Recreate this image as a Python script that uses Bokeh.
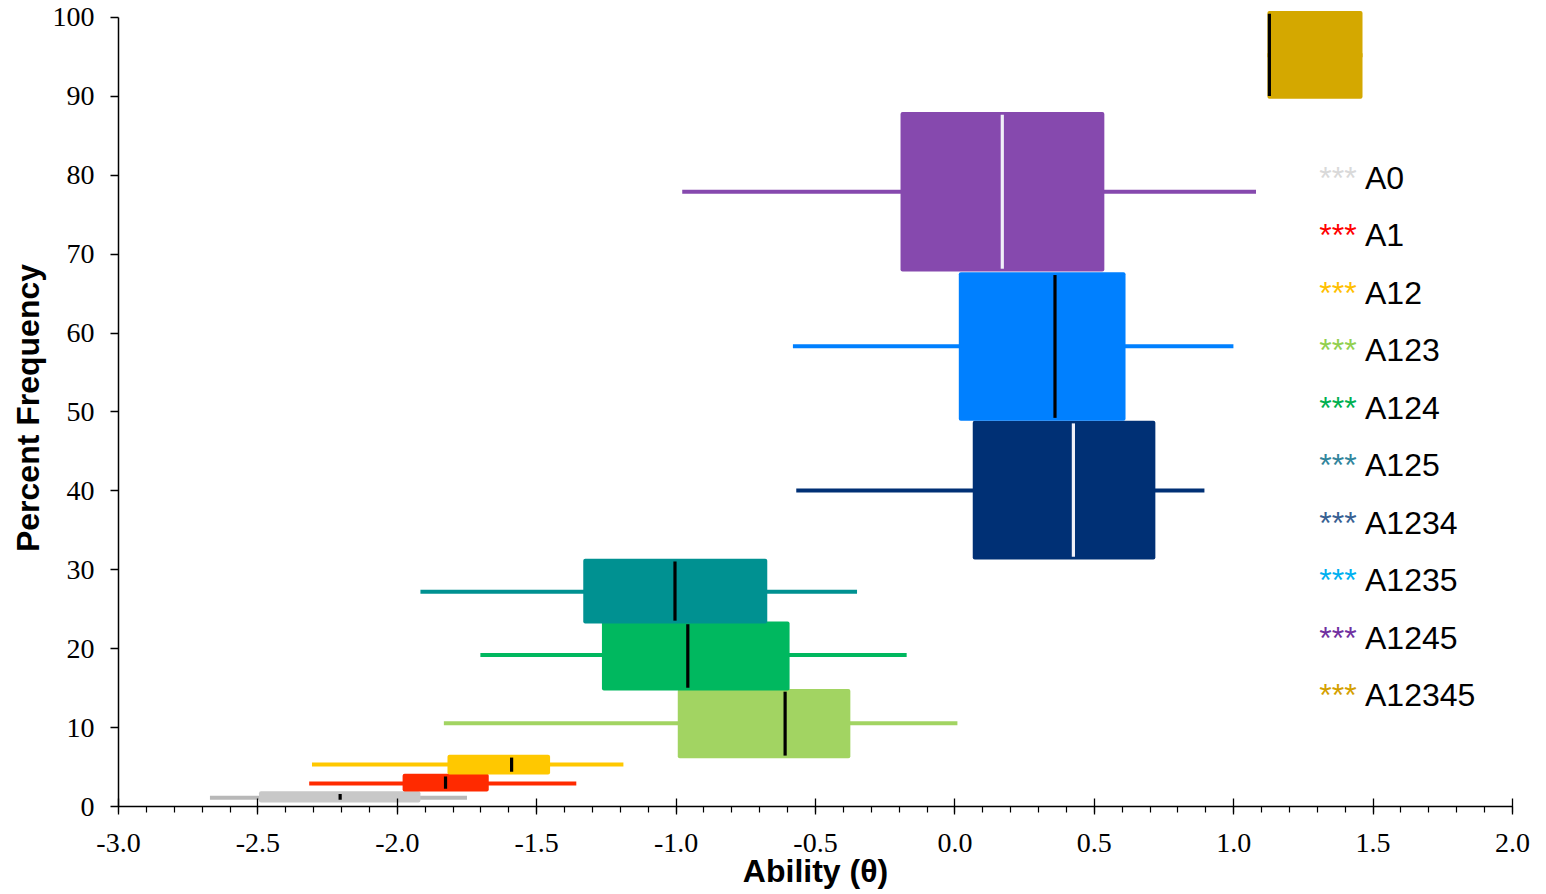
from bokeh.plotting import figure
from bokeh.models import ColumnDataSource, FixedTicker, PrintfTickFormatter, Range1d
from bokeh.core.properties import value
from bokeh.embed import file_html
from bokeh.resources import INLINE

# ---- data ----
groups = ["A0", "A1", "A12", "A123", "A124", "A125", "A1234", "A1235", "A1245", "A12345"]
bottom = [0.5, 1.9, 4.05, 6.1, 14.7, 23.2, 31.3, 48.9, 67.8, 89.7]
top = [1.94, 4.14, 6.55, 14.9, 23.45, 31.4, 48.9, 67.7, 88.0, 100.8]
whisker_y = [1.1, 2.92, 5.32, 10.56, 19.2, 27.2, 40.05, 58.34, 77.9, 95.2]
low = [-2.672, -2.316, -2.306, -1.833, -1.702, -1.917, -0.569, -0.581, -0.978, 1.121]
q1 = [-2.496, -1.981, -1.820, -0.994, -1.266, -1.333, 0.064, 0.014, -0.195, 1.121]
median = [-2.205, -1.827, -1.590, -0.609, -0.958, -1.004, 0.425, 0.359, 0.170, 1.128]
q3 = [-1.917, -1.672, -1.452, -0.375, -0.593, -0.673, 0.719, 0.612, 0.536, 1.462]
high = [-1.750, -1.358, -1.189, 0.009, -0.173, -0.351, 0.895, 0.999, 1.080, 1.462]

x_ticks = [-3.0, -2.5, -2.0, -1.5, -1.0, -0.5, 0.0, 0.5, 1.0, 1.5, 2.0]
y_ticks = [0, 10, 20, 30, 40, 50, 60, 70, 80, 90, 100]

# ---- styles ----
box_colors = ["#C8C8C8", "#FF2A00", "#FFC800", "#A2D462", "#00B85F", "#009191",
              "#003075", "#0080FF", "#8649AE", "#D4A800"]
whisker_colors = ["#B8B8B8", "#FF2A00", "#FFC800", "#A2D462", "#00B85F", "#009191",
                  "#003075", "#0080FF", "#8649AE", "#D4A800"]
median_colors = ["#000000", "#000000", "#000000", "#000000", "#000000", "#000000",
                 "#F0F0F8", "#000000", "#F0F0F8", "#000000"]
legend_colors = ["#D9D9D9", "#FF0000", "#FFC000", "#92D050", "#00B050", "#31859C",
                 "#376092", "#00B0F0", "#7030A0", "#D4A000"]

inset = 0.35
src = ColumnDataSource(dict(
    group=groups, bottom=bottom, top=top, wy=whisker_y, low=low, q1=q1,
    median=median, q3=q3, high=high,
    mb=[b + inset for b in bottom], mt=[t - inset for t in top],
    bc=box_colors, wc=whisker_colors, mc=median_colors,
))

p = figure(width=1546, height=894, x_range=Range1d(-3, 2), y_range=Range1d(0, 101.0),
           output_backend="svg", toolbar_location=None,
           min_border_left=118, min_border_right=34, min_border_top=9, min_border_bottom=88)

p.segment(x0="low", x1="high", y0="wy", y1="wy", line_color="wc", line_width=4, source=src)
p.quad(left="q1", right="q3", bottom="bottom", top="top", fill_color="bc", line_color=None,
       border_radius=2, source=src)
p.segment(x0="median", x1="median", y0="mb", y1="mt", line_color="mc", line_width=3.2, source=src)

# legend (text)
leg_y = [79.7 - i * 7.29 for i in range(len(groups))]
p.text(x=[1.307] * len(groups), y=leg_y, text=["***"] * len(groups), text_color=legend_colors,
       text_font=value("Liberation Sans"), text_font_size="32px", text_baseline="middle",
       text_align="left")
p.text(x=[1.471] * len(groups), y=leg_y, text=groups, text_color="#000000",
       text_font=value("Liberation Sans"), text_font_size="32px", text_baseline="middle",
       text_align="left")

p.xgrid.visible = False
p.ygrid.visible = False
p.outline_line_color = None

xa = p.xaxis[0]
xa.ticker = FixedTicker(ticks=x_ticks, minor_ticks=[round(-3 + 0.1 * i, 1) for i in range(51)])
xa.formatter = PrintfTickFormatter(format="%.1f")
xa.major_tick_in = 8
xa.major_tick_out = 8
xa.minor_tick_in = 0
xa.minor_tick_out = 6
xa.axis_label = "Ability (θ)"

ya = p.yaxis[0]
ya.ticker = FixedTicker(ticks=y_ticks)
ya.bounds = (0, 100)
ya.major_tick_in = 0
ya.major_tick_out = 8
ya.minor_tick_line_color = None
ya.axis_label = "Percent Frequency"

for ax in (xa, ya):
    ax.axis_line_color = "#000000"
    ax.axis_line_width = 1.5
    ax.major_tick_line_color = "#000000"
    ax.major_tick_line_width = 1.3
    ax.major_label_text_font = "Liberation Serif"
    ax.major_label_text_font_size = "28px"
    ax.major_label_text_color = "#000000"
    ax.axis_label_text_font = "Liberation Sans"
    ax.axis_label_text_font_style = "bold"
    ax.axis_label_text_font_size = "32px"
    ax.axis_label_text_color = "#000000"

xa.minor_tick_line_color = "#000000"
xa.minor_tick_line_width = 1.2
xa.major_label_standoff = 19
xa.axis_label_standoff = -2
ya.major_label_standoff = 16
ya.axis_label_standoff = 4

open("out.html", "w").write(file_html(p, INLINE))
